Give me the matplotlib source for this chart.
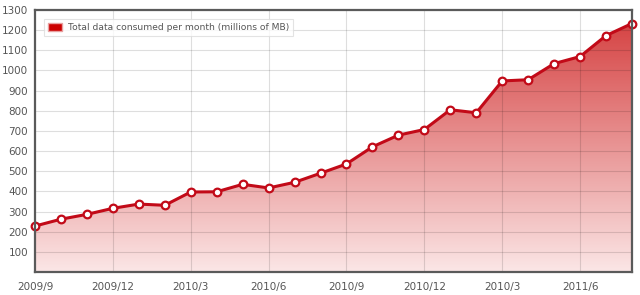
import numpy as np
import matplotlib
matplotlib.use("Agg")
import matplotlib.pyplot as plt
from matplotlib.colors import LinearSegmentedColormap
from matplotlib.patches import Patch

# monthly totals, 2009/9 .. 2011/8
values = [228, 262, 286, 316, 337, 331, 397, 398, 435, 417, 445, 490,
          536, 621, 679, 707, 805, 790, 948, 954, 1034, 1069, 1173, 1233]
tick_pos = [0, 3, 6, 9, 12, 15, 18, 21]
tick_labels = ["2009/9", "2009/12", "2010/3", "2010/6", "2010/9",
               "2010/12", "2010/3", "2011/6"]
legend_label = "Total data consumed per month (millions of MB)"

x = np.arange(len(values))
y = np.array(values)

fig = plt.figure(figsize=(6.4, 2.95), dpi=100)
ax = fig.add_axes([35/640, 1 - 272/295, 597/640, 262/295])

ax.set_xlim(0, len(values) - 1)
ax.set_ylim(0, 1300)

# gradient fill under the line
cmap = LinearSegmentedColormap.from_list("fill", ["#fbe6e6", "#d43c3c"])
grad = np.linspace(0, 1, 256).reshape(-1, 1)
poly = ax.fill_between(x, y, 0, color="none", lw=0)
img = ax.imshow(grad, cmap=cmap, aspect="auto", origin="lower",
                extent=[0, len(values) - 1, 0, 1300], zorder=1)
path = poly.get_paths()[0]
img.set_clip_path(path, transform=ax.transData)

# grid
ax.set_yticks(np.arange(100, 1301, 100))
ax.set_xticks(tick_pos)
ax.set_xticklabels(tick_labels)
for v in np.arange(100, 1301, 100):
    ax.axhline(v, color="black", alpha=0.13, lw=0.8, zorder=2)
for p in tick_pos[1:]:
    ax.axvline(p, color="black", alpha=0.13, lw=0.8, zorder=2)

ax.plot(x, y, color="#c20a18", lw=2.2, zorder=3, clip_on=False)
ax.plot(x, y, ls="none", marker="o", ms=5.5, mfc="white", mec="#c20a18",
        mew=1.6, zorder=4, clip_on=False)

for s in ax.spines.values():
    s.set_color("#5a5a5a")
    s.set_linewidth(1.6)
    s.set_zorder(5)

ax.tick_params(length=0, labelsize=7.5, labelcolor="#555555", pad=5)
ax.tick_params(axis="x", pad=7)

leg = ax.legend(handles=[Patch(facecolor="#cc0000", edgecolor="#e8a0a0")],
                labels=[legend_label], loc="upper left", fontsize=6.6,
                frameon=True, fancybox=False, handlelength=1.5,
                handleheight=1.1, handletextpad=0.6, borderpad=0.45,
                bbox_to_anchor=(0.008, 0.985))
leg.get_frame().set_edgecolor("#dddddd")
leg.get_frame().set_linewidth(0.8)
for t in leg.get_texts():
    t.set_color("#555555")
leg.set_zorder(6)

fig.savefig("out.png", dpi=100)
